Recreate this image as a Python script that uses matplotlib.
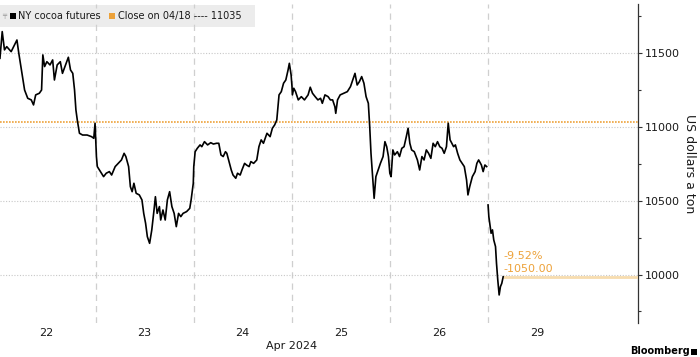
import matplotlib
matplotlib.use("Agg")
import matplotlib.pyplot as plt
from matplotlib.patches import Rectangle
import numpy as np

# ---------------- data ----------------
day_labels = ["22", "23", "24", "25", "26", "29"]
month_label = "Apr 2024"
prev_close = 11035
change_abs = -1050.00
change_pct = -9.52
last_price = prev_close + change_abs

# intraday positions (fraction of each trading session) and prices
apr22_t = [0.026, 0.049, 0.072, 0.095, 0.140, 0.199, 0.218, 0.245, 0.277, 0.309, 0.345, 0.368,
           0.390, 0.427, 0.450, 0.463, 0.481, 0.504, 0.536, 0.563, 0.581, 0.609, 0.641, 0.663,
           0.700, 0.723, 0.745, 0.768, 0.786, 0.800, 0.814, 0.836, 0.868, 0.914, 0.959, 0.982, 0.995]
apr22_px = [11466, 11647, 11523, 11545, 11511, 11590, 11500, 11387, 11251, 11195, 11184, 11150,
            11218, 11229, 11251, 11489, 11410, 11443, 11421, 11455, 11319, 11421, 11443, 11364,
            11432, 11473, 11387, 11364, 11251, 11116, 11048, 10958, 10946, 10946, 10935, 10924, 11026]

apr23_t = [0.009, 0.018, 0.050, 0.082, 0.109, 0.141, 0.164, 0.200, 0.232, 0.264, 0.291, 0.309,
           0.337, 0.355, 0.373, 0.391, 0.414, 0.446, 0.473, 0.491, 0.510, 0.528, 0.551, 0.573,
           0.596, 0.610, 0.628, 0.651, 0.664, 0.687, 0.710, 0.732, 0.755, 0.778, 0.801, 0.823,
           0.846, 0.869, 0.892, 0.928, 0.960, 0.974, 0.996]
apr23_px = [10800, 10732, 10698, 10664, 10687, 10698, 10675, 10732, 10754, 10777, 10822, 10800,
            10732, 10596, 10562, 10619, 10551, 10540, 10506, 10415, 10348, 10257, 10212, 10302,
            10438, 10528, 10415, 10461, 10370, 10438, 10370, 10506, 10562, 10461, 10415, 10325,
            10415, 10393, 10415, 10427, 10449, 10506, 10619]

apr24_t = [0.001, 0.015, 0.037, 0.065, 0.083, 0.110, 0.142, 0.174, 0.201, 0.233, 0.256, 0.278,
           0.301, 0.324, 0.338, 0.356, 0.383, 0.401, 0.429, 0.447, 0.474, 0.492, 0.519, 0.538,
           0.565, 0.583, 0.611, 0.643, 0.665, 0.688, 0.711, 0.747, 0.779, 0.802, 0.825, 0.847,
           0.870, 0.893, 0.916, 0.939, 0.962, 0.975, 0.993]
apr24_px = [10732, 10833, 10856, 10879, 10867, 10901, 10879, 10894, 10885, 10890, 10890, 10811,
            10800, 10833, 10822, 10777, 10709, 10675, 10653, 10687, 10675, 10709, 10754, 10743,
            10732, 10766, 10754, 10777, 10867, 10913, 10890, 10958, 10935, 10992, 11014, 11048,
            11218, 11240, 11297, 11319, 11387, 11432, 11353]

apr25_t = [0.002, 0.006, 0.020, 0.038, 0.066, 0.097, 0.129, 0.166, 0.188, 0.211, 0.238, 0.266,
           0.293, 0.311, 0.338, 0.370, 0.393, 0.416, 0.439, 0.448, 0.466, 0.493, 0.530, 0.566,
           0.598, 0.621, 0.644, 0.666, 0.689, 0.712, 0.735, 0.757, 0.780, 0.794, 0.807, 0.821,
           0.839, 0.857, 0.885, 0.903, 0.930, 0.949, 0.967, 0.985, 0.999]
apr25_px = [11274, 11218, 11263, 11240, 11184, 11206, 11184, 11218, 11270, 11229, 11206, 11184,
            11195, 11161, 11218, 11206, 11184, 11184, 11138, 11093, 11184, 11218, 11229, 11240,
            11274, 11319, 11364, 11285, 11308, 11342, 11297, 11206, 11161, 11003, 10822, 10687,
            10517, 10664, 10720, 10754, 10800, 10901, 10867, 10800, 10687]

apr26_t = [0.012, 0.030, 0.048, 0.076, 0.098, 0.121, 0.144, 0.167, 0.185, 0.203, 0.221, 0.248,
           0.280, 0.303, 0.326, 0.348, 0.371, 0.394, 0.417, 0.440, 0.462, 0.485, 0.508, 0.531,
           0.553, 0.576, 0.594, 0.613, 0.631, 0.649, 0.667, 0.690, 0.713, 0.736, 0.758, 0.781,
           0.795, 0.813, 0.840, 0.868, 0.886, 0.904, 0.932, 0.950, 0.968, 0.986]
apr26_px = [10664, 10845, 10811, 10833, 10800, 10856, 10867, 10935, 10992, 10890, 10845, 10833,
            10777, 10709, 10800, 10777, 10845, 10822, 10788, 10890, 10867, 10901, 10867, 10856,
            10822, 10867, 11026, 10913, 10890, 10867, 10879, 10822, 10777, 10754, 10732, 10641,
            10540, 10596, 10664, 10698, 10754, 10777, 10743, 10698, 10743, 10732]

apr29_t = [0.000, 0.008, 0.017, 0.031, 0.045, 0.058, 0.076, 0.086, 0.099, 0.113, 0.126, 0.140, 0.154]
apr29_px = [10472, 10393, 10348, 10280, 10303, 10235, 10190, 10077, 9964, 9862, 9918, 9941, 9985]

sessions_t = [apr22_t, apr23_t, apr24_t, apr25_t, apr26_t, apr29_t]
sessions_px = [apr22_px, apr23_px, apr24_px, apr25_px, apr26_px, apr29_px]

# ---------------- style ----------------
FONT = "DejaVu Sans"
plt.rcParams["font.family"] = [FONT]
ORANGE = "#eda23a"
TXT = "#1a1a1a"

W, H = 700, 357
fig = plt.figure(figsize=(W / 100, H / 100), dpi=100, facecolor="white")
ax_l, ax_r, ax_t, ax_b = 0, 638, 4, 322.7
ax = fig.add_axes([ax_l / W, 1 - ax_b / H, (ax_r - ax_l) / W, (ax_b - ax_t) / H])
ax.patch.set_visible(False)

# line: continuous Mon-Fri, gap before next week
xs, ys = [], []
for i, (tt, pp) in enumerate(zip(sessions_t, sessions_px)):
    if i == 5:
        xs.append(np.nan); ys.append(np.nan)
    xs.extend([i + t for t in tt]); ys.extend(pp)
ax.plot(xs, ys, color="black", lw=1.2, zorder=5)

ax.set_xlim(0.0264, 6.528)
ax.set_ylim(9674, 11834)

# day separators
for i in range(1, len(day_labels)):
    ax.axvline(i, color="#cfcfcf", lw=0.9, ls=(0, (5, 4)), zorder=1)

# horizontal grid
for v in [10000, 10500, 11000, 11500]:
    ax.axhline(v, color="#c8c8c8", lw=0.8, ls=(0, (1, 1.5)), zorder=1)

# previous close line
ax.axhline(prev_close, color=ORANGE, lw=1.2, ls=(0, (1, 0.8)), zorder=3)

# last price line
last_x = 5 + apr29_t[-1]
ax.plot([last_x, 6.528], [last_price, last_price], color="#f7dcae", lw=2.0, zorder=3,
        solid_capstyle="butt")
ax.text(last_x + 0.005, 10126, f"{change_pct:.2f}%", color=ORANGE, fontsize=8, va="center", ha="left")
ax.text(last_x + 0.005, 10038, f"{change_abs:.2f}", color=ORANGE, fontsize=8, va="center", ha="left")

# axes styling
for s in ["left", "top", "bottom"]:
    ax.spines[s].set_visible(False)
ax.spines["right"].set_color("#333333")
ax.spines["right"].set_linewidth(0.9)
ax.yaxis.tick_right()
ax.yaxis.set_label_position("right")
ax.set_yticks([10000, 10500, 11000, 11500])
ax.set_yticks([9750, 10250, 10750, 11250, 11750], minor=True)
ax.tick_params(axis="y", which="major", length=3, width=0.8, color="#333333",
               labelsize=8, labelcolor=TXT, pad=2)
ax.tick_params(axis="y", which="minor", length=2, width=0.8, color="#333333")
ax.set_ylabel("US dollars a ton", rotation=270, fontsize=9, color=TXT, labelpad=12, va="bottom")
ax.yaxis.set_label_coords(1 + (683 - 638) / 638 + 0.0, 0.5 - (164 - (ax_t + ax_b) / 2) / (ax_b - ax_t))

ax.set_xticks([i + 0.5 for i in range(len(day_labels))])
ax.set_xticklabels(day_labels)
ax.tick_params(axis="x", length=0, labelsize=8, labelcolor=TXT, pad=4)
fig.text(291.5 / W, 1 - 346 / H, month_label, fontsize=8, color=TXT, ha="center", va="center")

# legend band
fig.add_artist(Rectangle((0, 1 - 27 / H), 255 / W, 22 / H, transform=fig.transFigure,
                         facecolor="#ececec", edgecolor="none", zorder=-1))
fig.add_artist(Rectangle((9.5 / W, 1 - 19 / H), 6 / W, 6 / H, transform=fig.transFigure,
                         facecolor="black", edgecolor="none", zorder=2))
fig.text(18 / W, 1 - 16 / H, "NY cocoa futures", fontsize=7, color=TXT, va="center", ha="left")
fig.add_artist(Rectangle((109 / W, 1 - 19 / H), 6 / W, 6 / H, transform=fig.transFigure,
                         facecolor=ORANGE, edgecolor="none", zorder=2))
fig.text(118 / W, 1 - 16 / H, f"Close on 04/18 ---- {prev_close}", fontsize=7, color=TXT,
         va="center", ha="left")
fig.text(2 / W, 1 - 16 / H, "╤", fontsize=5, color="#999999", va="center", ha="left")

# branding at bottom edge
fig.text(690 / W, 1 - 356 / H, "Bloomberg", fontsize=7, fontweight="bold", color="black",
         va="bottom", ha="right")
fig.add_artist(Rectangle((691 / W, 1 - 355 / H), 6 / W, 6 / H, transform=fig.transFigure,
                         facecolor="black", edgecolor="none", zorder=2))

fig.savefig("out.png", dpi=100, facecolor="white")
